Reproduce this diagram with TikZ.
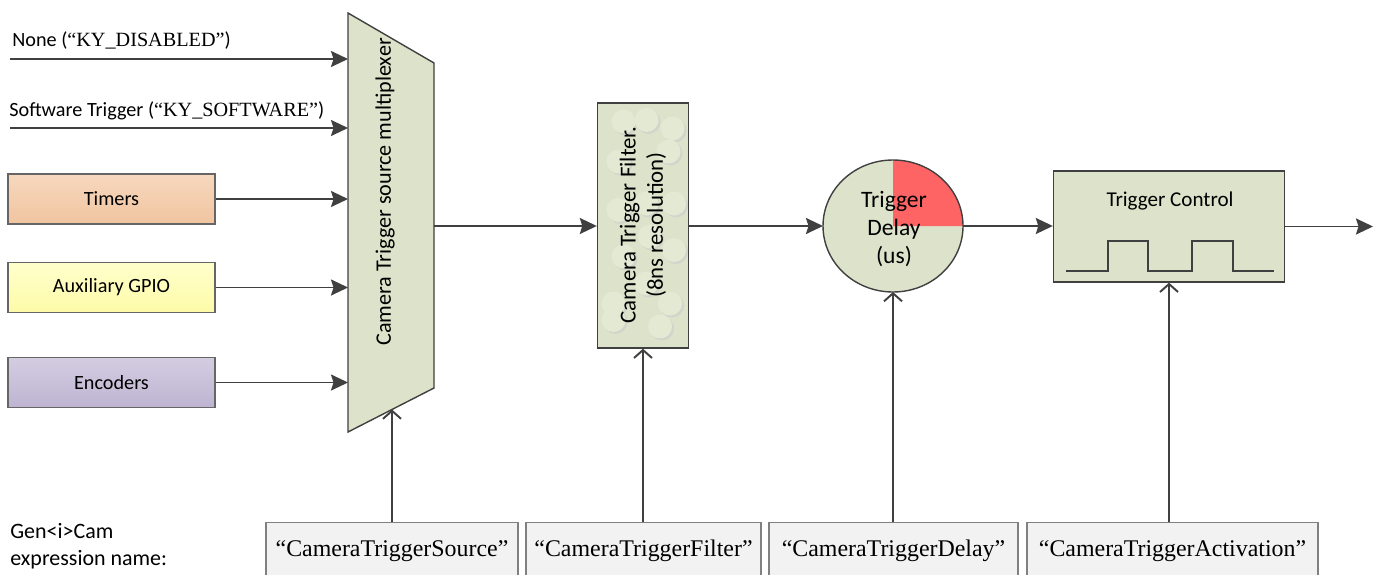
\documentclass[tikz,border=0pt]{standalone}
\usepackage{fontspec}
\setmainfont{Carlito}
\newfontfamily\tnr{Liberation Serif}
\usetikzlibrary{arrows.meta,calc,shapes.geometric}
\definecolor{linegray}{HTML}{404040}
\definecolor{muxgreen}{HTML}{DDE3CA}
\definecolor{bubble}{HTML}{E4E9D4}
\definecolor{delayred}{HTML}{FF6464}
\definecolor{exprgray}{HTML}{F2F2F2}
\definecolor{timertop}{HTML}{F7D8BE}
\definecolor{timerbot}{HTML}{F0C4A0}
\definecolor{auxtop}{HTML}{FFFFCC}
\definecolor{auxbot}{HTML}{FDFBA8}
\definecolor{enctop}{HTML}{D4CDE1}
\definecolor{encbot}{HTML}{BEB4D2}
\tikzset{
  wire/.style={line width=1.1pt, draw=linegray, -{Stealth[length=0.34cm,width=0.32cm,inset=0.05cm]}},
  pin/.style={line width=1.1pt, draw=linegray, -{Straight Barb[length=0.16cm,width=0.36cm]}},
  srcbox/.style={draw=linegray!80, line width=0.8pt, minimum width=4.14cm, minimum height=1cm, font=\fontsize{11.5}{14}\selectfont},
  exprbox/.style={draw=gray, line width=0.7pt, fill=exprgray, minimum height=1.12cm, anchor=north, font=\tnr\fontsize{13.6}{15}\selectfont},
  lbl/.style={anchor=base west, inner sep=0, font=\fontsize{11.5}{14}\selectfont}
}
\begin{document}
\begin{tikzpicture}
\useasboundingbox (0,0) rectangle (27.58,11.48);
\clip (0,0) rectangle (27.58,11.48);

% sources
\node [lbl] (nonelbl) at (0.24,10.54) {None ({\tnr “KY\_DISABLED”})};
\node [lbl] (swlbl) at (0.18,9.14) {Software Trigger ({\tnr “KY\_SOFTWARE”})};
\coordinate (none) at (0.2,10.30);
\coordinate (sw) at (0.2,8.92);
\node [srcbox, top color=timertop, bottom color=timerbot] (timers) at (2.23,7.5) {Timers};
\node [srcbox, top color=auxtop, bottom color=auxbot] (aux) at (2.23,5.73) {Auxiliary GPIO};
\node [srcbox, top color=enctop, bottom color=encbot] (enc) at (2.23,3.83) {Encoders};

% multiplexer
\draw [line width=0.8pt, draw=linegray, fill=muxgreen] (6.96,11.22)--(8.68,10.22)--(8.68,3.72)--(6.96,2.84)--cycle;
\coordinate (muxL) at (6.96,0);
\coordinate (muxR) at (8.68,6.96);
\coordinate (muxB) at (7.84,3.29);
\node [rotate=90, font=\fontsize{12.6}{14}\selectfont] (mux) at (7.70,7.64) {Camera Trigger source multiplexer};

\draw [wire] (none) -- (none -| muxL);
\draw [wire] (sw) -- (sw -| muxL);
\draw [wire] (timers.east) -- (timers.east -| muxL);
\draw [wire] (aux.east) -- (aux.east -| muxL);
\draw [wire] (enc.east) -- (enc.east -| muxL);

% filter
\node [draw=linegray, line width=0.8pt, fill=muxgreen, minimum width=1.82cm, minimum height=4.9cm] (filter) at (12.86,6.97) {};
\foreach \bx/\by in {12.47/9.05, 12.93/9.08, 13.45/8.91, 12.37/8.25, 13.37/8.45, 12.37/7.28, 12.93/7.41, 13.48/7.41,
  12.47/6.35, 13.00/6.75, 13.48/6.48, 12.27/5.41, 12.93/5.81, 13.40/5.41, 12.27/5.08, 13.20/4.95}
  {
  \fill [gray!40, opacity=0.6] (\bx+0.04,\by-0.04) circle (0.24);
  \fill [bubble] (\bx,\by) circle (0.24);
  }
\node [rotate=90, align=center, font=\fontsize{13}{15.5}\selectfont] (filtertxt) at (12.86,6.98) {Camera Trigger Filter.\\(8ns resolution)};
\draw [wire] (muxR) -- (filter.west |- muxR);

% delay
\node [ellipse, minimum width=2.8cm, minimum height=2.64cm, inner sep=0, outer sep=0] (delay) at (17.86,6.96) {};
\fill [muxgreen] (delay.center) ellipse [x radius=1.4, y radius=1.32];
\fill [delayred] (delay.center) -- ++(1.4,0) arc [start angle=0, end angle=90, x radius=1.4, y radius=1.32] -- cycle;
\draw [linegray, line width=0.8pt] (delay.center) ellipse [x radius=1.4, y radius=1.32];
\node [align=center, font=\fontsize{13.4}{15.8}\selectfont] (delaytxt) at (17.88,6.9) {Trigger\\Delay\\(us)};
\draw [wire] (filter.east |- delay.west) -- (delay.west);

% trigger control
\node [draw=linegray, line width=0.8pt, fill=muxgreen, minimum width=4.62cm, minimum height=2.22cm] (ctrl) at (23.38,6.95) {};
\node [font=\fontsize{12}{14}\selectfont] (ctrltxt) at (23.40,7.46) {Trigger Control};
\draw [linegray, line width=0.7pt] (21.32,6.06) -| (22.16,6.66) -| (22.96,6.06) -| (23.84,6.66) -| (24.66,6.06) -- (25.48,6.06);
\draw [wire] (delay.east) -- (ctrl.west |- delay.east);
\coordinate (out) at (27.46,6.95);
\draw [wire] (ctrl.east) -- (out);

% expression names
\node [anchor=west, align=left, inner sep=0, font=\fontsize{12.5}{15.5}\selectfont] (genicam) at (0.2,0.55) {Gen<i>Cam\\expression name:};
\node [exprbox, minimum width=5.04cm] (srcname) at (7.84,1.04) {“CameraTriggerSource”};
\node [exprbox, minimum width=4.70cm] (filtname) at (12.87,1.04) {“CameraTriggerFilter”};
\node [exprbox, minimum width=4.98cm] (delayname) at (17.87,1.04) {“CameraTriggerDelay”};
\node [exprbox, minimum width=5.82cm] (actname) at (23.45,1.04) {“CameraTriggerActivation”};

\draw [pin] (srcname.north) -- (muxB);
\draw [pin] (filter.south |- filtname.north) -- (filter.south);
\draw [pin] (delay.south |- delayname.north) -- (delay.south);
\draw [pin] (ctrl.south |- actname.north) -- (ctrl.south);
\end{tikzpicture}
\end{document}
